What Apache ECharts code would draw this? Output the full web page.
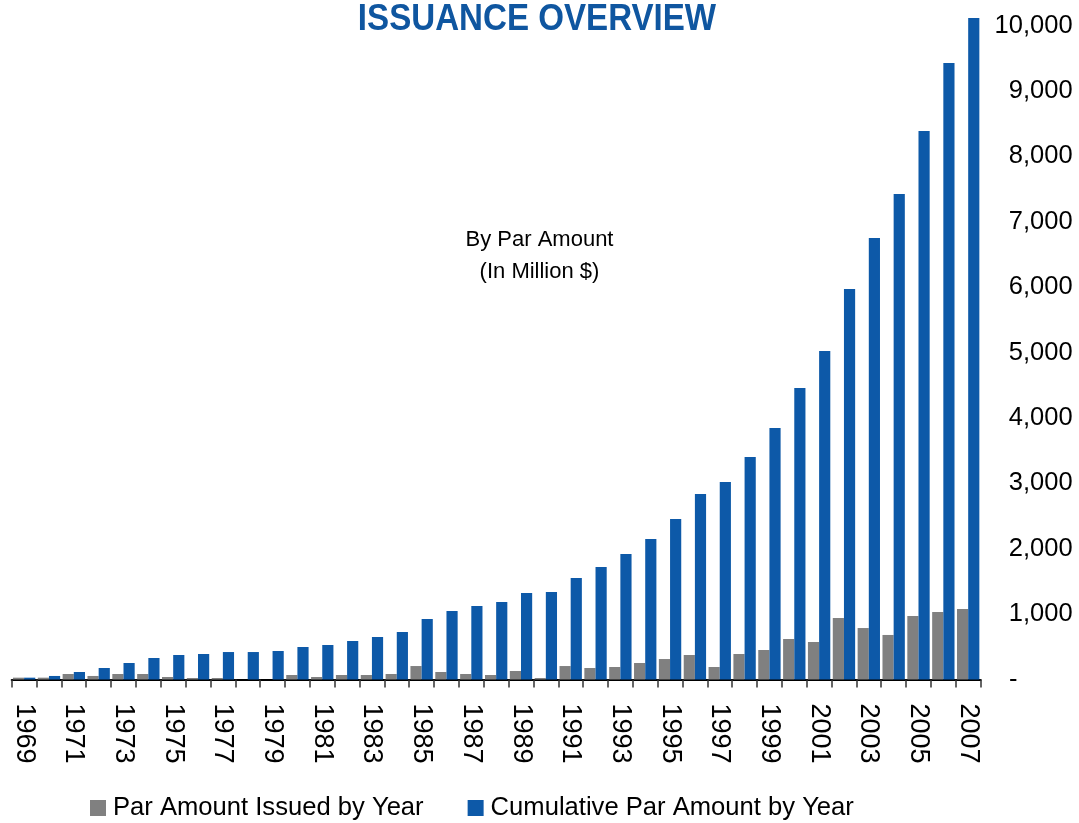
<!DOCTYPE html>
<html>
<head>
<meta charset="utf-8">
<script src="https://cdn.jsdelivr.net/npm/echarts@6/dist/echarts.min.js"></script>
<style>
html,body{margin:0;padding:0;background:#fff;}
#chart{width:1079px;height:823px;}
</style>
</head>
<body>
<div id="chart"></div>
<script>
var years = ['1969','1970','1971','1972','1973','1974','1975','1976','1977','1978','1979','1980','1981','1982','1983','1984','1985','1986','1987','1988','1989','1990','1991','1992','1993','1994','1995','1996','1997','1998','1999','2000','2001','2002','2003','2004','2005','2006','2007'];
var issuedByYear = [28,28,84,54,84,84,38,23,23,0,0,69,38,69,69,84,206,115,84,69,130,23,206,176,191,252,313,375,191,390,451,619,573,940,787,681,971,1032,1078];
var cumulativeByYear = [28,54,115,176,252,329,375,390,420,420,436,497,528,589,650,726,925,1047,1124,1185,1323,1338,1552,1720,1919,2148,2454,2836,3020,3402,3846,4457,5023,5971,6751,7424,8387,9427,10115];
var seriesNames = ['Par Amount Issued by Year','Cumulative Par Amount by Year'];
var titleText = 'ISSUANCE OVERVIEW';
var noteText = 'By Par Amount\n(In Million $)';

var chart = echarts.init(document.getElementById('chart'), null, {renderer:'canvas'});
var option = {
  animation: false,
  backgroundColor: '#ffffff',
  graphic: [{
    type: 'text', x: 537, y: 2, scaleX: 0.92,
    style: {text: titleText, fill: '#0F56A0', font: 'bold 36px "Liberation Sans", Arial, sans-serif', textAlign: 'center', textVerticalAlign: 'top'}
  }, {
    type: 'text', left: 'center', x: 0, top: 224,
    style: {text: noteText, x: 0, fill: '#000', font: '22px "Liberation Sans", Arial, sans-serif', textAlign: 'center', lineHeight: 32}
  }],
  legend: {
    left: 90, top: 795, padding: 0, itemWidth: 16, itemHeight: 16, itemGap: 44, icon: 'rect',
    textStyle: {fontFamily: '"Liberation Sans",Arial,sans-serif', fontSize: 25.6, color: '#000', lineHeight: 26, padding: [0,0,0,2]},
    data: seriesNames
  },
  grid: {left: 11.7, right: 98.4, top: 25.5, bottom: 143.5, containLabel: false},
  xAxis: {
    type: 'category', data: years,
    axisLine: {lineStyle: {color: '#000', width: 2}},
    axisTick: {show: true, alignWithLabel: false, interval: 0, length: 8, lineStyle: {color: '#333', width: 1.5}},
    axisLabel: {interval: 1, rotate: -90, margin: 24, color: '#000', fontFamily: '"Liberation Sans",Arial,sans-serif', fontSize: 27}
  },
  yAxis: {
    type: 'value', position: 'right', min: 0, max: 10000, interval: 1000,
    axisLine: {show: false}, axisTick: {show: false}, splitLine: {show: false},
    axisLabel: {
      margin: 92, align: 'right', color: '#000',
      fontFamily: '"Liberation Sans",Arial,sans-serif', fontSize: 25.5,
      formatter: function (v) { return v === 0 ? '{d|-}' : v.toLocaleString('en-US'); },
      rich: {d: {fontSize: 25.5, color: '#000', padding: [0, 55, 0, 0], fontFamily: '"Liberation Sans",Arial,sans-serif'}}
    }
  },
  series: [
    {name: seriesNames[0], type: 'bar', data: issuedByYear, barGap: '0%', barCategoryGap: '10%', clip: false, itemStyle: {color: '#808080'}},
    {name: seriesNames[1], type: 'bar', data: cumulativeByYear, barGap: '0%', barCategoryGap: '10%', clip: false, itemStyle: {color: '#0D59A8'}}
  ]
};
chart.setOption(option);
</script>
</body>
</html>
